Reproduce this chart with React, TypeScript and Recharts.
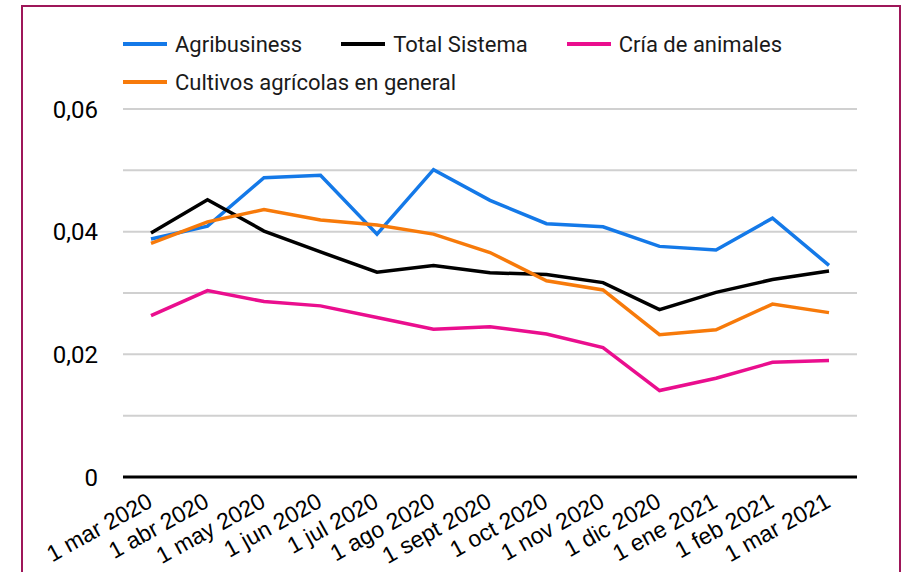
import React from 'react';
import { LineChart, Line, XAxis, YAxis, CartesianGrid } from 'recharts';

// ── datos ─────────────────────────────────────────────

const months = [
  '1 mar 2020', '1 abr 2020', '1 may 2020', '1 jun 2020', '1 jul 2020',
  '1 ago 2020', '1 sept 2020', '1 oct 2020', '1 nov 2020', '1 dic 2020',
  '1 ene 2021', '1 feb 2021', '1 mar 2021',
];

const agribusiness = [0.0388, 0.0409, 0.0488, 0.0492, 0.0396, 0.0501, 0.0451, 0.0413, 0.0408, 0.0376, 0.0370, 0.0422, 0.0345];
const totalSistema = [0.0398, 0.0452, 0.0401, 0.0367, 0.0334, 0.0345, 0.0333, 0.0330, 0.0317, 0.0273, 0.0301, 0.0322, 0.0336];
const criaAnimales = [0.0263, 0.0304, 0.0286, 0.0279, 0.0260, 0.0241, 0.0245, 0.0233, 0.0211, 0.0141, 0.0161, 0.0187, 0.0190];
const cultivos = [0.0381, 0.0416, 0.0436, 0.0419, 0.0411, 0.0396, 0.0366, 0.0320, 0.0305, 0.0232, 0.0240, 0.0282, 0.0268];

const yTicks = [0, 0.01, 0.02, 0.03, 0.04, 0.05, 0.06];

const series = [
  { key: 'agri', name: 'Agribusiness', color: '#1479E8', values: agribusiness },
  { key: 'total', name: 'Total Sistema', color: '#000000', values: totalSistema },
  { key: 'cria', name: 'Cría de animales', color: '#EA0E8E', values: criaAnimales },
  { key: 'cult', name: 'Cultivos agrícolas en general', color: '#F77A0A', values: cultivos },
];

const data = months.map((m, i) => {
  const row: Record<string, string | number> = { month: m };
  series.forEach(s => { row[s.key] = s.values[i]; });
  return row;
});

// ── etiquetas ─────────────────────────────────────────

const fmtY = (v: number) => {
  const idx = Math.round(v * 100);
  if (idx % 2 !== 0) return '';
  return v === 0 ? '0' : v.toFixed(2).replace('.', ',');
};

// eslint-disable-next-line @typescript-eslint/no-explicit-any
const XTick = ({ x, y, payload }: any) => (
  <g transform={`translate(${x + 3},${y + 21})`}>
    <text
      textAnchor="end"
      transform="rotate(-29)"
      fill="#000"
      fontSize={23}
      fontFamily="'Liberation Sans', Arial, sans-serif"
    >
      {payload.value}
    </text>
  </g>
);

// leyenda fuera del gráfico para no mover el área de trazado
const ChartLegend = () => (
  <div style={{
    position: 'absolute', left: 123, top: 31, width: 734,
    display: 'flex', flexWrap: 'wrap', rowGap: 12,
    fontFamily: 'Roboto, sans-serif', fontSize: 22, color: '#1a1a1a',
  }}>
    {series.map(s => (
      <span key={s.key} style={{ display: 'flex', alignItems: 'center', marginRight: 39, height: 26 }}>
        <span style={{ width: 44, height: 3.5, background: s.color, display: 'inline-block', marginRight: 8 }} />
        {s.name}
      </span>
    ))}
  </div>
);

// ── componente ────────────────────────────────────────

export default function App() {
  return (
    <div style={{ position: 'absolute', left: 0, top: 0, width: 906, height: 572, background: '#fff', overflow: 'hidden' }}>
      <div style={{
        position: 'absolute', left: 21, top: 5, width: 880, height: 620,
        border: '2px solid #9E1659', boxSizing: 'border-box',
      }} />
      <LineChart
        width={906}
        height={572}
        data={data}
        margin={{ top: 109, right: 49, bottom: 0, left: 0 }}
        style={{ position: 'absolute', left: 0, top: 0 }}
      >
        <CartesianGrid stroke="#D0D0D0" strokeWidth={2} vertical={false} />
        <XAxis
          dataKey="month"
          interval={0}
          padding={{ left: 28, right: 28 }}
          tickLine={false}
          axisLine={{ stroke: '#000', strokeWidth: 3 }}
          tick={<XTick />}
          height={95}
        />
        <YAxis
          width={123}
          domain={[0, 0.06]}
          ticks={yTicks}
          tickFormatter={fmtY}
          tickLine={false}
          axisLine={false}
          tickSize={23}
          tick={{ fill: '#000', fontSize: 24, fontFamily: 'Roboto, sans-serif' }}
        />
        {series.map(s => (
          <Line
            key={s.key}
            dataKey={s.key}
            name={s.name}
            stroke={s.color}
            strokeWidth={3.5}
            dot={false}
            activeDot={false}
            isAnimationActive={false}
          />
        ))}
      </LineChart>
      <ChartLegend />
    </div>
  );
}
